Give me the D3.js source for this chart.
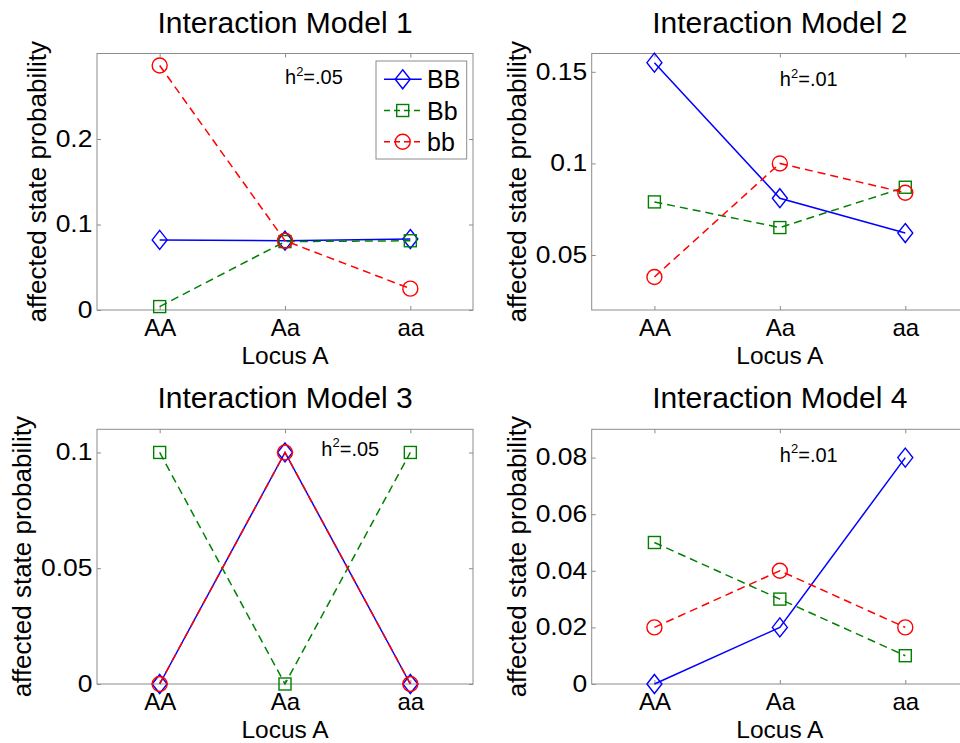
<!DOCTYPE html>
<html><head><meta charset="utf-8">
<script src="https://cdn.jsdelivr.net/npm/d3@7"></script>
<style>
body{margin:0;background:#fff}
svg{display:block}
text{font-family:"Liberation Sans",Arial,Helvetica,sans-serif;fill:#000}
</style>
</head><body>
<svg id="c" width="960" height="743"></svg>
<script>
// ---------------- data ----------------
const categories = ["AA", "Aa", "aa"];
const seriesNames = ["BB", "Bb", "bb"];
const panelTitles = ["Interaction Model 1", "Interaction Model 2", "Interaction Model 3", "Interaction Model 4"];
const heritability = [".05", ".01", ".05", ".01"];
const xLabel = "Locus A";
const yLabel = "affected state probability";

const model1BB = [0.082, 0.081, 0.083];
const model1Bb = [0.004, 0.080, 0.081];
const model1bb = [0.286, 0.081, 0.025];

const model2BB = [0.155, 0.081, 0.062];
const model2Bb = [0.079, 0.065, 0.087];
const model2bb = [0.038, 0.100, 0.084];

const model3BB = [0.0, 0.1, 0.0];
const model3Bb = [0.1, 0.0, 0.1];
const model3bb = [0.0, 0.1, 0.0];

const model4BB = [0.0, 0.02, 0.08];
const model4Bb = [0.05, 0.03, 0.01];
const model4bb = [0.02, 0.04, 0.02];

const model1YDomain = [0, 0.3];
const model2YDomain = [0.02, 0.16];
const model3YDomain = [0, 0.11];
const model4YDomain = [0, 0.09];

const model1YTicks = [0, 0.1, 0.2];
const model2YTicks = [0.05, 0.1, 0.15];
const model3YTicks = [0, 0.05, 0.1];
const model4YTicks = [0, 0.02, 0.04, 0.06, 0.08];

const model1YTickLabels = ["0", "0.1", "0.2"];
const model2YTickLabels = ["0.05", "0.1", "0.15"];
const model3YTickLabels = ["0", "0.05", "0.1"];
const model4YTickLabels = ["0", "0.02", "0.04", "0.06", "0.08"];

// annotation anchor (x in category units 1..3, y in data units)
const model1Note = [2, 0.264];
const model2Note = [2, 0.142];
const model3Note = [2.29, 0.0985];
const model4Note = [2, 0.0786];

// ---------------- build ----------------
const panels = [
  {series: [model1BB, model1Bb, model1bb], yDomain: model1YDomain, yTicks: model1YTicks, yLabels: model1YTickLabels, note: model1Note, legend: true},
  {series: [model2BB, model2Bb, model2bb], yDomain: model2YDomain, yTicks: model2YTicks, yLabels: model2YTickLabels, note: model2Note},
  {series: [model3BB, model3Bb, model3bb], yDomain: model3YDomain, yTicks: model3YTicks, yLabels: model3YTickLabels, note: model3Note},
  {series: [model4BB, model4Bb, model4bb], yDomain: model4YDomain, yTicks: model4YTicks, yLabels: model4YTickLabels, note: model4Note}
];
const layouts = [
  {l: 97, r: 473, t: 53.5, b: 310},
  {l: 591.7, r: 968, t: 53.5, b: 310},
  {l: 97, r: 473, t: 429.3, b: 684},
  {l: 591.7, r: 968, t: 429.3, b: 684}
];
const styles = [
  {color: "#0000ff", dash: null, marker: "diamond"},
  {color: "#008000", dash: "8,5", marker: "square"},
  {color: "#ff0000", dash: "8,5", marker: "circle"}
];
const axisColor = "#8c8c8c";

const svg = d3.select("#c");

function drawMarker(g, type, cx, cy, color) {
  if (type === "diamond") {
    g.append("path")
      .attr("d", `M${cx},${cy - 9.5}L${cx + 7.5},${cy}L${cx},${cy + 9.5}L${cx - 7.5},${cy}Z`)
      .attr("fill", "none").attr("stroke", color).attr("stroke-width", 1.4);
  } else if (type === "square") {
    g.append("rect").attr("x", cx - 6).attr("y", cy - 6).attr("width", 12).attr("height", 12)
      .attr("fill", "none").attr("stroke", color).attr("stroke-width", 1.4);
  } else {
    g.append("circle").attr("cx", cx).attr("cy", cy).attr("r", 7.5)
      .attr("fill", "none").attr("stroke", color).attr("stroke-width", 1.4);
  }
}

function styleAxis(ax, fontSize) {
  ax.select(".domain").remove();
  ax.selectAll(".tick line").attr("stroke", axisColor).attr("stroke-width", 1);
  ax.attr("font-family", null).attr("font-size", fontSize);
  ax.selectAll(".tick text").attr("fill", "#000");
}

panels.forEach((p, i) => {
  const L = layouts[i];
  const g = svg.append("g");
  const x = d3.scaleLinear().domain([0.5, 3.5]).range([L.l, L.r]);
  const y = d3.scaleLinear().domain(p.yDomain).range([L.b, L.t]);

  g.append("rect").attr("x", L.l).attr("y", L.t).attr("width", L.r - L.l).attr("height", L.b - L.t)
    .attr("fill", "#fff").attr("stroke", axisColor).attr("stroke-width", 1);

  const bottom = g.append("g").attr("transform", `translate(0,${L.b})`)
    .call(d3.axisBottom(x).tickValues([1, 2, 3]).tickFormat(d => categories[d - 1])
      .tickSizeInner(-4).tickSizeOuter(0).tickPadding(9));
  styleAxis(bottom, 24);

  const top = g.append("g").attr("transform", `translate(0,${L.t})`)
    .call(d3.axisTop(x).tickValues([1, 2, 3]).tickFormat("").tickSizeInner(-4).tickSizeOuter(0));
  styleAxis(top, 10);

  const left = g.append("g").attr("transform", `translate(${L.l},0)`)
    .call(d3.axisLeft(y).tickValues(p.yTicks).tickFormat((d, k) => p.yLabels[k])
      .tickSizeInner(-4).tickSizeOuter(0).tickPadding(4));
  styleAxis(left, 23);
  left.selectAll(".tick text").attr("transform", "scale(1.15,1)");

  const right = g.append("g").attr("transform", `translate(${L.r},0)`)
    .call(d3.axisRight(y).tickValues(p.yTicks).tickFormat("").tickSizeInner(-4).tickSizeOuter(0));
  styleAxis(right, 10);

  let maxW = 0;
  left.selectAll(".tick text").each(function () { maxW = Math.max(maxW, this.getComputedTextLength() * 1.15); });

  p.series.forEach((vals, s) => {
    const st = styles[s];
    const line = d3.line().x((d, j) => x(j + 1)).y(d => y(d));
    g.append("path").datum(vals).attr("d", line)
      .attr("fill", "none").attr("stroke", st.color).attr("stroke-width", 1.5)
      .attr("stroke-dasharray", st.dash);
    vals.forEach((v, j) => drawMarker(g, st.marker, x(j + 1), y(v), st.color));
  });

  g.append("text").attr("x", (L.l + L.r) / 2).attr("y", L.t - 21)
    .attr("text-anchor", "middle").attr("font-size", 30).text(panelTitles[i]);
  g.append("text").attr("x", (L.l + L.r) / 2).attr("y", L.b + 53.5)
    .attr("text-anchor", "middle").attr("font-size", 24.5).text(xLabel);
  const lx = L.l - 4.6 - maxW - 10;
  const ly = (L.t + L.b) / 2;
  g.append("text").attr("transform", `translate(${lx},${ly}) rotate(-90)`)
    .attr("text-anchor", "middle").attr("font-size", 26).text(yLabel);

  const nt = g.append("text").attr("x", x(p.note[0])).attr("y", y(p.note[1])).attr("font-size", 20);
  nt.append("tspan").text("h");
  nt.append("tspan").attr("font-size", 13).attr("dy", -8.5).text("2");
  nt.append("tspan").attr("dy", 8.5).text("=" + heritability[i]);

  if (p.legend) {
    const lw = 90.7, lh = 98;
    const lx0 = L.r - 6.3 - lw, ly0 = L.t + 7.5;
    const lg = g.append("g");
    lg.append("rect").attr("x", lx0).attr("y", ly0).attr("width", lw).attr("height", lh)
      .attr("fill", "#fff").attr("stroke", axisColor).attr("stroke-width", 1);
    seriesNames.forEach((name, s) => {
      const st = styles[s];
      const ry = ly0 + 18.3 + s * 31.2;
      lg.append("line").attr("x1", lx0 + 8).attr("x2", lx0 + 45.7).attr("y1", ry).attr("y2", ry)
        .attr("stroke", st.color).attr("stroke-width", 1.4)
        .attr("stroke-dasharray", st.dash ? "6,4" : null);
      drawMarker(lg, st.marker, lx0 + 26.7, ry, st.color);
      lg.append("text").attr("x", lx0 + 51).attr("y", ry).attr("dy", "0.36em")
        .attr("font-size", 25).text(name);
    });
  }
});
</script>
</body></html>
